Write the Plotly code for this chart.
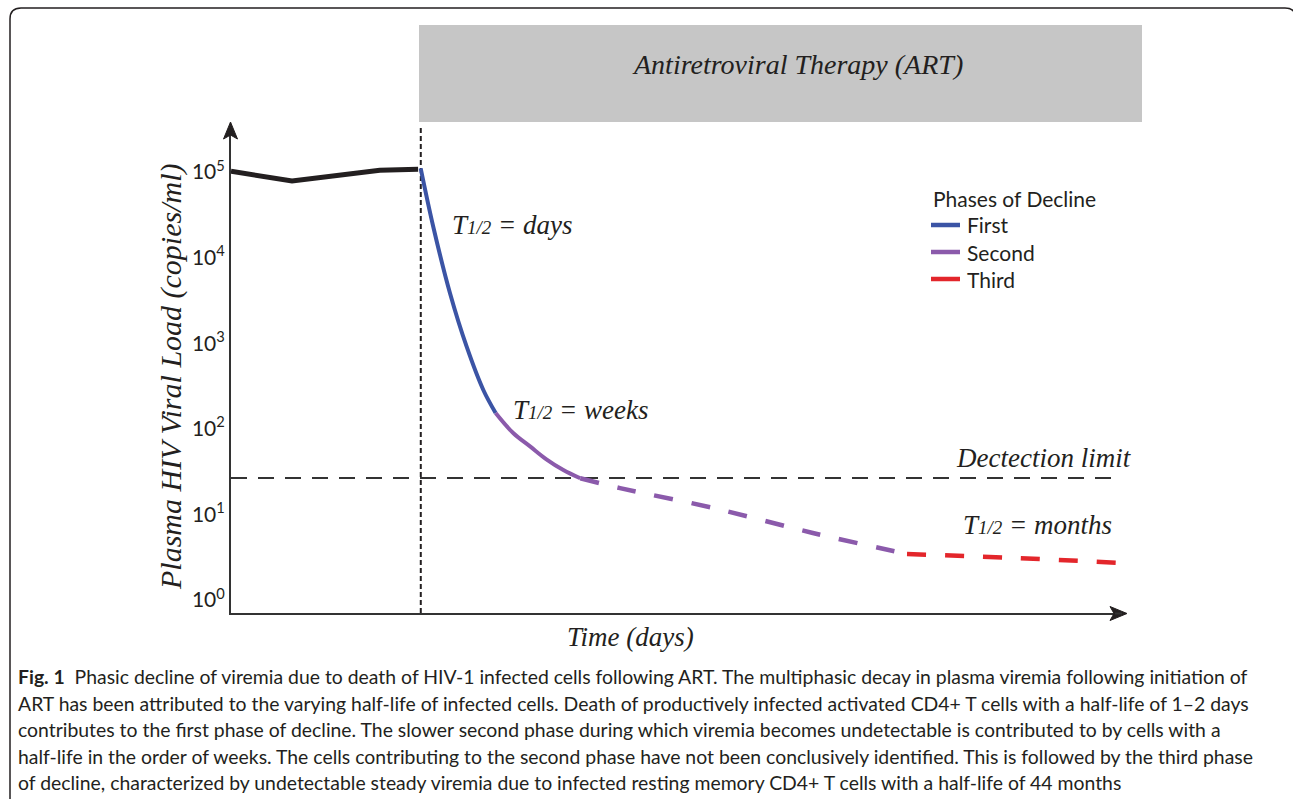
import plotly.graph_objects as go

# ---------------- data (schematic) ----------------
pre_x = [0, 6.85, 16.7, 21.0]
pre_y = [102000, 78500, 105000, 108000]

first_x = [21.29, 22.70, 24.58, 26.45, 28.32, 29.70]
first_y = [110400, 22960, 3830, 910, 284, 153]

second_x = [29.70, 31.70, 33.60, 35.40, 37.30, 39.20]
second_y = [153, 88.6, 61.8, 44.0, 33.0, 26.4]

second_dash_x = [39.20, 43.66, 54.10, 65.30, 75.87]
second_dash_y = [26.4, 20.3, 11.9, 6.07, 3.44]

third_x = [75.87, 88.0, 100.0]
third_y = [3.44, 3.10, 2.70]

detection_limit = 26.6
art_start = 21.3

tick_vals = [1, 10, 100, 1000, 10000, 100000]
tick_text = ["10<sup>0</sup>", "10<sup>1</sup>", "10<sup>2</sup>",
             "10<sup>3</sup>", "10<sup>4</sup>", "10<sup>5</sup>"]

legend_title = "Phases of Decline"
phase_names = ["First", "Second", "Third"]
caption_lines = [
    "<b>Fig. 1</b>  Phasic decline of viremia due to death of HIV-1 infected cells following ART. The multiphasic decay in plasma viremia following initiation of",
    "ART has been attributed to the varying half-life of infected cells. Death of productively infected activated CD4+ T cells with a half-life of 1–2 days",
    "contributes to the first phase of decline. The slower second phase during which viremia becomes undetectable is contributed to by cells with a",
    "half-life in the order of weeks. The cells contributing to the second phase have not been conclusively identified. This is followed by the third phase",
    "of decline, characterized by undetectable steady viremia due to infected resting memory CD4+ T cells with a half-life of 44 months",
]

# ---------------- layout geometry ----------------
W, H = 1293, 799
L, R, T, B = 231, 1122, 128, 613
PW, PH = R - L, B - T


def px(x):
    return (x - L) / PW


def py(y):
    return (B - y) / PH


BLUE = "#3b54a5"
PURPLE = "#8b5aab"
RED = "#e3262b"
INK = "#231f20"
SERIF = "Liberation Serif"
SANS = "Lato"
phase_colors = [BLUE, PURPLE, RED]

fig = go.Figure()

# ART start (dotted) and detection limit (dashed)
fig.add_trace(go.Scatter(x=[art_start, art_start], y=[10 ** -0.152, 10 ** 5.514],
                         mode="lines", line=dict(color=INK, width=2, dash="5px,3px"),
                         showlegend=False, hoverinfo="skip"))
fig.add_trace(go.Scatter(x=[0, 99.3], y=[detection_limit, detection_limit],
                         mode="lines", line=dict(color="#333333", width=2, dash="16px,11px"),
                         showlegend=False, hoverinfo="skip"))

# pre-ART viral load
fig.add_trace(go.Scatter(x=pre_x, y=pre_y, mode="lines",
                         line=dict(color=INK, width=5), showlegend=False))
# phases
fig.add_trace(go.Scatter(x=first_x, y=first_y, mode="lines", name=phase_names[0],
                         line=dict(color=BLUE, width=4, shape="spline", smoothing=1.0),
                         showlegend=False))
fig.add_trace(go.Scatter(x=second_x, y=second_y, mode="lines", name=phase_names[1],
                         line=dict(color=PURPLE, width=4, shape="spline", smoothing=1.0),
                         showlegend=False))
fig.add_trace(go.Scatter(x=second_dash_x, y=second_dash_y, mode="lines",
                         line=dict(color=PURPLE, width=4.5, dash="19px,19px", shape="spline"),
                         showlegend=False))
fig.add_trace(go.Scatter(x=third_x, y=third_y, mode="lines", name=phase_names[2],
                         line=dict(color=RED, width=4.5, dash="19px,19px", shape="spline"),
                         showlegend=False))

shapes = []
# grey ART band
shapes.append(dict(type="rect", xref="paper", yref="paper",
                   x0=px(419), x1=px(1142), y0=py(122), y1=py(25),
                   fillcolor="#c6c6c6", line=dict(width=0), layer="below"))
# arrowheads
shapes.append(dict(type="path", xref="paper", yref="paper",
                   path=f"M {px(230.5)} {py(122)} L {px(237.5)} {py(139)} L {px(230.5)} {py(135)} L {px(223.5)} {py(139)} Z",
                   fillcolor=INK, line=dict(color=INK, width=1)))
shapes.append(dict(type="path", xref="paper", yref="paper",
                   path=f"M {px(1127)} {py(613.5)} L {px(1110)} {py(620.5)} L {px(1114)} {py(613.5)} L {px(1110)} {py(606.5)} Z",
                   fillcolor=INK, line=dict(color=INK, width=1)))
# x axis extension to arrow
shapes.append(dict(type="line", xref="paper", yref="paper",
                   x0=px(1115), x1=px(1122), y0=py(613.5), y1=py(613.5),
                   line=dict(color="#333333", width=2)))
# outer rounded frame
shapes.append(dict(type="path", xref="paper", yref="paper",
                   path=(f"M {px(10)} {py(820)} L {px(10)} {py(19)} Q {px(10)} {py(8)} {px(21)} {py(8)} "
                         f"L {px(1285)} {py(8)} Q {px(1296)} {py(8)} {px(1296)} {py(19)} L {px(1296)} {py(820)}"),
                   line=dict(color=INK, width=1.5)))
# legend samples
legend_y = [225, 252, 279]
for c, yy in zip(phase_colors, legend_y):
    shapes.append(dict(type="line", xref="paper", yref="paper",
                       x0=px(931), x1=px(960), y0=py(yy), y1=py(yy),
                       line=dict(color=c, width=4.5)))

ann = []


def txt(text, x, y, size, family, xanchor="center", angle=0, color=INK):
    ann.append(dict(text=text, x=px(x), y=py(y), xref="paper", yref="paper",
                    showarrow=False, xanchor=xanchor, yanchor="middle", textangle=angle,
                    font=dict(size=size, family=family, color=color)))


txt("<i>Antiretroviral Therapy (ART)</i>", 797, 64, 28, SERIF)
txt("<i>Plasma HIV Viral Load (copies/ml)</i>", 171, 377, 30, SERIF, angle=-90)
txt("<i>Time (days)</i>", 630, 637, 27, SERIF)
half = "<i>T</i><span style='font-size:19px'><i>1/2</i></span><i> = </i>"
txt(half + "<i>days</i>", 450, 225, 27, SERIF, xanchor="left")
txt(half + "<i>weeks</i>", 511, 410, 27, SERIF, xanchor="left")
txt("<i>Dectection limit</i>", 1134, 458, 27, SERIF, xanchor="right")
txt(half + "<i>months</i>", 961, 525, 27, SERIF, xanchor="left")

# legend texts
txt(legend_title, 931, 198, 21, SANS, xanchor="left")
for name, yy in zip(phase_names, legend_y):
    txt(name, 965, yy, 21, SANS, xanchor="left")

cap_y = [676, 703, 729, 756, 782]
for line, yy in zip(caption_lines, cap_y):
    txt(line, 16, yy, 19.4, SANS, xanchor="left")

fig.update_layout(
    width=W, height=H,
    margin=dict(l=L, r=W - R, t=T, b=H - B, pad=0),
    paper_bgcolor="white", plot_bgcolor="white",
    shapes=shapes, annotations=ann,
    showlegend=False,
    xaxis=dict(range=[0, 100], showgrid=False, zeroline=False, showticklabels=False,
               ticks="", showline=True, linecolor="#333333", linewidth=2, fixedrange=True),
    yaxis=dict(type="log", range=[-0.152, 5.514], showgrid=False, zeroline=False,
               tickmode="array", tickvals=tick_vals, ticktext=tick_text, ticks="",
               tickfont=dict(size=21, family=SANS, color=INK), ticklabelstandoff=0,
               showline=True, linecolor="#333333", linewidth=2, fixedrange=True),
)

fig.write_html("out.html", config={"displayModeBar": False},
               post_script="document.body.style.margin='0px';")
